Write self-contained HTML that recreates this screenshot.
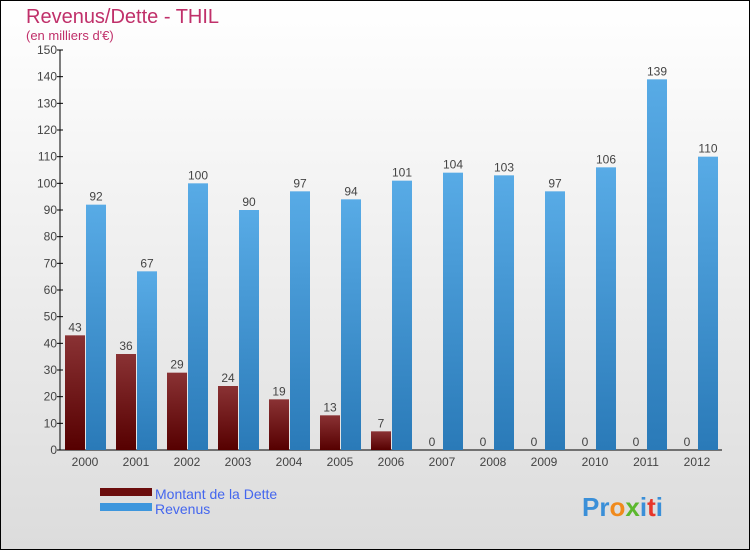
<!DOCTYPE html>
<html><head><meta charset="utf-8"><style>
body{margin:0}
svg text{font-family:"Liberation Sans",sans-serif}
</style></head><body>
<svg id="c" width="750" height="550" xmlns="http://www.w3.org/2000/svg">
<defs>
<linearGradient id="bg" x1="0" y1="0" x2="0" y2="1"><stop offset="0" stop-color="#ffffff"/><stop offset="1" stop-color="#dcdcdc"/></linearGradient>
<linearGradient id="gd" x1="0" y1="0" x2="0" y2="1"><stop offset="0" stop-color="#8a3234"/><stop offset="1" stop-color="#560000"/></linearGradient>
<linearGradient id="gr" x1="0" y1="0" x2="0" y2="1"><stop offset="0" stop-color="#58abe6"/><stop offset="1" stop-color="#2a7ab8"/></linearGradient>
</defs>
<rect x="0.5" y="0.5" width="749" height="549" fill="url(#bg)" stroke="#000"/>
<text x="26" y="23" font-size="20" fill="#c0306a">Revenus/Dette - THIL</text>
<text x="26" y="40" font-size="13" fill="#c0306a">(en milliers d'€)</text>
<g id="axes"></g>
<g id="bars"></g>
<rect x="100" y="488" width="52" height="8" fill="#6b0d0d"/>
<text x="155" y="499" font-size="14" fill="#4466ee">Montant de la Dette</text>
<rect x="100" y="503" width="52" height="8" fill="#3d96dd"/>
<text x="155" y="514" font-size="14" fill="#4466ee">Revenus</text>
<text x="582" y="516" font-size="26" font-weight="bold"><tspan fill="#3a8fd8">Pr</tspan><tspan fill="#f08a1c">o</tspan><tspan fill="#5cb82e">x</tspan><tspan fill="#3a8fd8">i</tspan><tspan fill="#e8362a">t</tspan><tspan fill="#3a8fd8">i</tspan></text>
</svg>
<script>
const years=["2000","2001","2002","2003","2004","2005","2006","2007","2008","2009","2010","2011","2012"];
const dette=[43,36,29,24,19,13,7,0,0,0,0,0,0];
const revenus=[92,67,100,90,97,94,101,104,103,97,106,139,110];
const yTicks=[0,10,20,30,40,50,60,70,80,90,100,110,120,130,140,150];
const NS="http://www.w3.org/2000/svg";
const y0=450,yTop=50,yMax=150;
const yS=v=>y0-(v/yMax)*(y0-yTop);
const xC=i=>85+i*51;
function mk(t,a,p){const e=document.createElementNS(NS,t);for(const k in a)e.setAttribute(k,a[k]);p.appendChild(e);return e;}
const ax=document.getElementById('axes'),bs=document.getElementById('bars');
let l=mk('line',{x1:60,y1:yTop,x2:60,y2:y0,stroke:'#000'},ax);


l=mk('line',{x1:60,y1:y0,x2:722,y2:y0,stroke:'#000'},ax);


yTicks.forEach(v=>{
 const t=mk('line',{x1:57,x2:63,y1:yS(v),y2:yS(v),stroke:'#000'},ax);
 
 
 const tx=mk('text',{x:57,y:yS(v)+4,'font-size':12,fill:'#444','text-anchor':'end'},ax);
 tx.textContent=v;
 
 
});
years.forEach((yr,i)=>{
 const c=xC(i);
 const tx=mk('text',{x:c,y:466,'font-size':12,fill:'#444','text-anchor':'middle'},ax);
 tx.textContent=yr;
 
 
 const d=dette[i],r=revenus[i];
 const bd=mk('rect',{x:c-20,y:yS(d),width:20,height:y0-yS(d),fill:'url(#gd)'},bs);
 
 
 const ld=mk('text',{x:c-10,y:yS(d)-4,'font-size':12,fill:'#444','text-anchor':'middle'},bs);
 ld.textContent=d;
 
 
 const br=mk('rect',{x:c+1,y:yS(r),width:20,height:y0-yS(r),fill:'url(#gr)'},bs);
 
 
 const lr=mk('text',{x:c+11,y:yS(r)-4,'font-size':12,fill:'#444','text-anchor':'middle'},bs);
 lr.textContent=r;
 
 
});
</script>
</body></html>
